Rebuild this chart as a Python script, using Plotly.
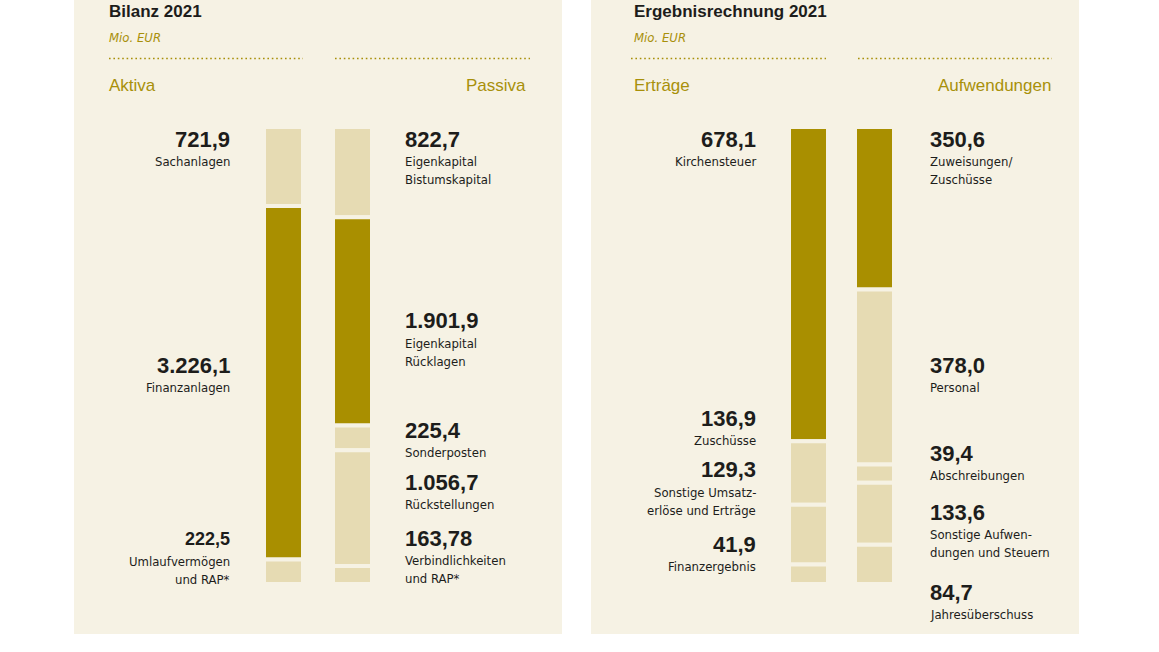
import plotly.graph_objects as go

# ---------------- data ----------------
aktiva_names = ["Sachanlagen", "Finanzanlagen", "Umlaufvermögen<br>und RAP*"]
aktiva_values = [721.9, 3226.1, 222.5]
passiva_names = ["Eigenkapital<br>Bistumskapital", "Eigenkapital<br>Rücklagen", "Sonderposten",
                 "Rückstellungen", "Verbindlichkeiten<br>und RAP*"]
passiva_values = [822.7, 1901.9, 225.4, 1056.7, 163.78]
ertraege_names = ["Kirchensteuer", "Zuschüsse", "Sonstige Umsatz-<br>erlöse und Erträge", "Finanzergebnis"]
ertraege_values = [678.1, 136.9, 129.3, 41.9]
aufw_names = ["Zuweisungen/<br>Zuschüsse", "Personal", "Abschreibungen",
              "Sonstige Aufwen-<br>dungen und Steuern", "Jahresüberschuss"]
aufw_values = [350.6, 378.0, 39.4, 133.6, 84.7]
# which segment is highlighted (dark)
aktiva_dark = [False, True, False]
passiva_dark = [False, True, False, False, False]
ertraege_dark = [True, False, False, False]
aufw_dark = [True, False, False, False, False]

# ---------------- style / layout ----------------
W, H = 1159, 652
BG = "#f6f2e4"
LIGHT = "#e6dbb3"
DARK = "#a98f00"
GOLD = "#a8900a"
INK = "#1d1d1b"
LABEL_FONT = "DejaVu Sans Condensed, Roboto, sans-serif"
VALUE_FONT = "Liberation Sans, Arial, sans-serif"

def px_x(p):
    return p / W

def px_y(p):
    return 1 - p / H

def de(v):
    dec = 1 if round(v, 1) == v else 2
    s = f"{v:,.{dec}f}"
    return s.replace(",", "X").replace(".", ",").replace("X", ".")

def bases(vals):
    out, acc = [], 0.0
    for v in vals:
        out.append(acc)
        acc += v
    return out

fig = go.Figure()

def add_column(name, vals, dark, xaxis, yaxis, width):
    fig.add_trace(go.Bar(
        x=[name] * len(vals), y=vals, base=bases(vals),
        marker=dict(color=[DARK if d else LIGHT for d in dark],
                    line=dict(color=BG, width=4)),
        width=width, xaxis=xaxis, yaxis=yaxis, hoverinfo="skip", showlegend=False))

add_column("Aktiva", aktiva_values, aktiva_dark, "x", "y", 39 / 69)
add_column("Passiva", passiva_values, passiva_dark, "x", "y", 39 / 69)
add_column("Erträge", ertraege_values, ertraege_dark, "x2", "y2", 39 / 66)
add_column("Aufwendungen", aufw_values, aufw_dark, "x2", "y2", 39 / 66)

left_total = max(sum(aktiva_values), sum(passiva_values))
right_total = max(sum(ertraege_values), sum(aufw_values))
ydom = [px_y(584), px_y(127)]

fig.update_layout(
    width=W, height=H, margin=dict(l=0, r=0, t=0, b=0),
    paper_bgcolor="white", plot_bgcolor="rgba(0,0,0,0)",
    barmode="overlay",
    xaxis=dict(domain=[px_x(249), px_x(387)], range=[-0.5, 1.5], visible=False, fixedrange=True),
    yaxis=dict(domain=ydom, range=[left_total, 0], visible=False, fixedrange=True),
    xaxis2=dict(domain=[px_x(775.5), px_x(907.5)], range=[-0.5, 1.5], visible=False, fixedrange=True),
    yaxis2=dict(domain=ydom, range=[right_total, 0], visible=False, fixedrange=True, anchor="x2"),
)

shapes = []
# panels
for x0, x1 in [(74, 562), (591, 1079)]:
    shapes.append(dict(type="rect", xref="paper", yref="paper", x0=px_x(x0), x1=px_x(x1),
                       y0=px_y(634), y1=1.0, fillcolor=BG, line=dict(width=0), layer="below"))
# dotted rules
for x0, x1 in [(109, 303), (335, 530), (631, 826), (858, 1052)]:
    shapes.append(dict(type="line", xref="paper", yref="paper", x0=px_x(x0), x1=px_x(x1),
                       y0=px_y(58.5), y1=px_y(58.5),
                       line=dict(color=GOLD, width=1.6, dash="1.6px,2.8px")))
fig.update_layout(shapes=shapes)

ann = []

def text(x, y, s, size, color, family, anchor="left", bold=False, italic=False):
    if bold:
        s = f"<b>{s}</b>"
    if italic:
        s = f"<i>{s}</i>"
    # compensate for the annotation's inner padding
    x = x - 2 if anchor == "left" else x + 1.5
    ann.append(dict(x=px_x(x), y=px_y(y), xref="paper", yref="paper", text=s, showarrow=False,
                    xanchor=anchor, yanchor="middle",
                    font=dict(family=family, size=size, color=color)))

# headers
text(109, 11, "Bilanz 2021", 17, INK, VALUE_FONT, bold=True)
text(109, 37.5, "Mio. EUR", 13, GOLD, LABEL_FONT, italic=True)
text(109, 85, "Aktiva", 17, GOLD, VALUE_FONT)
text(526, 85, "Passiva", 17, GOLD, VALUE_FONT, anchor="right")
text(634, 11, "Ergebnisrechnung 2021", 17, INK, VALUE_FONT, bold=True)
text(634, 37.5, "Mio. EUR", 13, GOLD, LABEL_FONT, italic=True)
text(634, 85, "Erträge", 17, GOLD, VALUE_FONT)
text(1051, 85, "Aufwendungen", 17, GOLD, VALUE_FONT, anchor="right")

# segment labels: y position (px) of the value line per segment
aktiva_label_y = [139, 365, 539]
passiva_label_y = [139, 321, 430, 482.5, 538]
ertraege_label_y = [139, 418, 470, 544]
aufw_label_y = [139, 365, 453.5, 512, 592.5]
aktiva_value_size = [22, 22, 18]

def labels(names, vals, ys, x, anchor, sizes=None):
    for i, (n, v, y) in enumerate(zip(names, vals, ys)):
        size = sizes[i] if sizes else 22
        text(x, y, de(v), size, INK, VALUE_FONT, anchor=anchor, bold=True)
        for j, line in enumerate(n.split("<br>")):
            text(x, y + 22 + 18.5 * j, line, 13, INK, LABEL_FONT, anchor=anchor)

labels(aktiva_names, aktiva_values, aktiva_label_y, 230, "right", aktiva_value_size)
labels(passiva_names, passiva_values, passiva_label_y, 405, "left")
labels(ertraege_names, ertraege_values, ertraege_label_y, 756, "right")
labels(aufw_names, aufw_values, aufw_label_y, 930, "left")

fig.update_layout(annotations=ann)
fig.write_html("out.html", config={"displayModeBar": False},
               post_script="document.body.style.margin='0';")
